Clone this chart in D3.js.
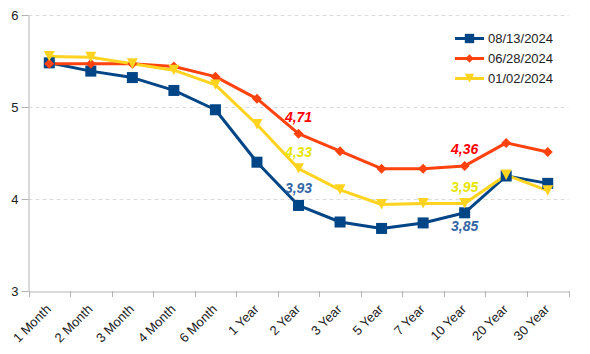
<!DOCTYPE html>
<html><head><meta charset="utf-8">
<script src="https://cdn.jsdelivr.net/npm/d3@7"></script>
<style>body{margin:0;background:#fff}svg{display:block;font-family:"Liberation Sans",Arial,sans-serif}</style>
</head><body>
<svg id="c" width="590" height="354"></svg>
<script>
const categories = ["1 Month","2 Month","3 Month","4 Month","6 Month","1 Year","2 Year","3 Year","5 Year","7 Year","10 Year","20 Year","30 Year"];
const seriesNames = ["08/13/2024","06/28/2024","01/02/2024"];
const aug13 = [5.48,5.39,5.32,5.18,4.97,4.40,3.93,3.75,3.68,3.74,3.85,4.25,4.17];
const jun28 = [5.47,5.47,5.47,5.44,5.33,5.09,4.71,4.52,4.33,4.33,4.36,4.61,4.51];
const jan02 = [5.55,5.54,5.47,5.40,5.24,4.81,4.33,4.10,3.94,3.95,3.95,4.26,4.09];
const yTicks = [3,4,5,6];
const labels = [
  {s:1, i:6, text:"4,71"},
  {s:2, i:6, text:"4,33"},
  {s:0, i:6, text:"3,93"},
  {s:1, i:10, text:"4,36"},
  {s:2, i:10, text:"3,95"},
  {s:0, i:10, text:"3,85", below:true}
];

const colors = ["#004586","#ff420e","#ffd320"];
const labelColors = ["#3465a4","#ff0000","#e6e600"];
const data = [aug13, jun28, jan02];

const svg = d3.select("#c");
const m = {l:28.5, r:568.5, t:15, b:291};
const x = d3.scaleBand().domain(categories).range([m.l, m.r]);
const y = d3.scaleLinear().domain([3,6]).range([m.b, m.t]);

// grid
svg.append("g").selectAll("line").data(yTicks.filter(d=>d>3)).join("line")
  .attr("x1", m.l).attr("x2", m.r)
  .attr("y1", d=>Math.round(y(d))+0.5).attr("y2", d=>Math.round(y(d))+0.5)
  .attr("stroke","#dcdcdc").attr("stroke-dasharray","4,3");

// y axis
const yAxis = svg.append("g").attr("transform",`translate(${m.l},0)`)
  .call(d3.axisLeft(y).tickValues(yTicks).tickFormat(d3.format("d")).tickSize(7).tickSizeOuter(0).tickPadding(3));
yAxis.select(".domain").attr("stroke","#b3b3b3");
yAxis.selectAll(".tick line").attr("stroke","#b3b3b3");
yAxis.selectAll("text").attr("font-size","13px").attr("fill","#222").attr("font-family","Liberation Sans, Arial, sans-serif");

// x axis
const xAxis = svg.append("g").attr("transform",`translate(0,${m.b+0.5})`)
  .call(d3.axisBottom(x).tickSize(0).tickSizeOuter(0).tickFormat(""));
xAxis.select(".domain").attr("stroke","#b3b3b3");
xAxis.selectAll(".tick").remove();
// tick marks at band boundaries
const bounds = categories.map(c=>x(c)).concat([m.r]);
svg.append("g").selectAll("line").data(bounds).join("line")
  .attr("x1",d=>Math.round(d)+0.5).attr("x2",d=>Math.round(d)+0.5)
  .attr("y1",m.b).attr("y2",m.b+6).attr("stroke","#b3b3b3");

const cx = c => x(c) + x.bandwidth()/2;

svg.append("g").selectAll("text").data(categories).join("text")
  .attr("transform", c=>`translate(${cx(c)+2.5},${m.b+19}) rotate(-45)`)
  .attr("text-anchor","end")
  .attr("font-size","13px").attr("fill","#222")
  .text(c=>c);

// lines
data.forEach((vals, s) => {
  const line = d3.line().x((d,i)=>cx(categories[i])).y(d=>y(d));
  svg.append("path").datum(vals).attr("d", line)
    .attr("fill","none").attr("stroke",colors[s]).attr("stroke-width",3).attr("stroke-linejoin","round");
});

function marker(g, s, px, py, scale=1) {
  if (s===0) {
    const h = 5.5*scale;
    g.append("rect").attr("x",px-h).attr("y",py-h).attr("width",2*h).attr("height",2*h).attr("fill",colors[0]);
  } else if (s===1) {
    const h = 5*scale;
    g.append("path").attr("d",`M${px},${py-h}L${px+h},${py}L${px},${py+h}L${px-h},${py}Z`).attr("fill",colors[1]);
  } else {
    const h = 5.5*scale;
    g.append("path").attr("d",`M${px-h},${py-h}L${px+h},${py-h}L${px},${py+h*0.9}Z`).attr("fill",colors[2]);
  }
}
const mg = svg.append("g");
data.forEach((vals, s) => {
  vals.forEach((v,i)=> marker(mg, s, cx(categories[i]), y(v)));
});

// value labels
svg.append("g").selectAll("text").data(labels).join("text")
  .attr("x", d=>cx(categories[d.i]))
  .attr("y", d=> d.below ? y(data[d.s][d.i]) + 18 : y(data[d.s][d.i]) - 12)
  .attr("text-anchor","middle")
  .attr("font-size","14px").attr("font-weight","bold").attr("font-style","italic")
  .attr("fill", d=>labelColors[d.s]).text(d=>d.text);

// legend
const lg = svg.append("g");
seriesNames.forEach((n,s)=>{
  const ly = 38.5 + s*20;
  lg.append("line").attr("x1",455).attr("x2",484).attr("y1",ly).attr("y2",ly)
    .attr("stroke",colors[s]).attr("stroke-width",3);
  marker(lg, s, 469.5, ly, 0.85);
  lg.append("text").attr("x",488).attr("y",ly).attr("dy","0.35em")
    .attr("font-size","13px").attr("fill","#222").text(n);
});
</script>
</body></html>
